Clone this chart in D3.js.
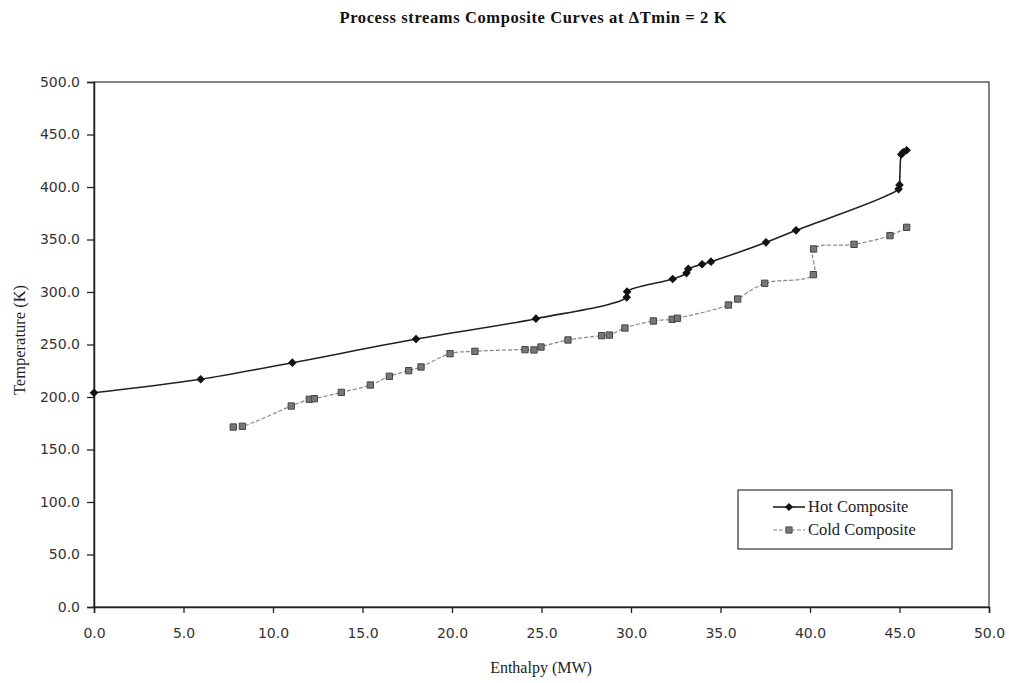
<!DOCTYPE html>
<html>
<head>
<meta charset="utf-8">
<script src="https://cdn.jsdelivr.net/npm/d3@7"></script>
<style>
  html, body { margin: 0; padding: 0; background: #ffffff; }
  svg { display: block; }
</style>
</head>
<body>
<svg id="chart" width="1009" height="683"></svg>
<script>
// ---- Data ----
const hotEnthalpy = [0.0, 5.96, 11.08, 17.99, 24.69, 29.76, 29.78, 32.33, 33.1, 33.2, 33.97, 34.47, 37.54, 39.22, 44.95, 45.0, 45.1, 45.2, 45.4];
const hotTemperature = [204.0, 216.9, 232.7, 255.2, 274.6, 294.9, 300.3, 312.4, 318.0, 322.0, 326.4, 328.9, 347.3, 358.7, 398.0, 402.0, 431.0, 433.0, 435.0];

const coldEnthalpy = [7.78, 8.29, 11.02, 12.03, 12.31, 13.82, 15.44, 16.5, 17.58, 18.27, 19.89, 21.28, 24.08, 24.58, 24.97, 26.48, 28.36, 28.79, 29.66, 31.25, 32.3, 32.6, 35.44, 35.96, 37.47, 40.19, 40.2, 42.46, 44.47, 45.4];
const coldTemperature = [171.4, 172.1, 191.4, 197.8, 198.4, 204.4, 211.4, 219.7, 225.1, 228.6, 241.3, 243.5, 245.1, 244.8, 247.6, 254.3, 258.4, 259.0, 265.7, 272.4, 274.0, 275.0, 287.6, 293.3, 308.3, 316.5, 341.0, 345.4, 353.7, 361.6];

const xTicks = [0, 5, 10, 15, 20, 25, 30, 35, 40, 45, 50];
const yTicks = [0, 50, 100, 150, 200, 250, 300, 350, 400, 450, 500];

const titleText = "Process streams Composite Curves at \u0394Tmin = 2 K";
const xLabel = "Enthalpy (MW)";
const yLabel = "Temperature (K)";
const seriesNames = ["Hot Composite", "Cold Composite"];

// ---- Layout ----
const svg = d3.select("#chart");
const plot = { left: 94, right: 989, top: 82, bottom: 607 };

const x = d3.scaleLinear().domain([0, 50]).range([plot.left, plot.right]);
const y = d3.scaleLinear().domain([0, 500]).range([plot.bottom, plot.top]);

const hot = hotEnthalpy.map((h, i) => ({ x: h, y: hotTemperature[i] }));
const cold = coldEnthalpy.map((h, i) => ({ x: h, y: coldTemperature[i] }));

// Title
svg.append("text")
  .attr("x", 533).attr("y", 23)
  .attr("text-anchor", "middle")
  .attr("font-family", "Liberation Serif, serif")
  .attr("font-weight", "bold")
  .attr("font-size", 16.5)
  .attr("fill", "#111")
  .attr("textLength", 387)
  .attr("lengthAdjust", "spacing")
  .text(titleText);

// Plot border
svg.append("rect")
  .attr("x", plot.left).attr("y", plot.top)
  .attr("width", plot.right - plot.left).attr("height", plot.bottom - plot.top)
  .attr("fill", "none").attr("stroke", "#333").attr("stroke-width", 1.2);

// Axes
const xAxis = d3.axisBottom(x).tickValues(xTicks).tickSize(6).tickPadding(15)
  .tickFormat(d3.format(".1f"));
const yAxis = d3.axisLeft(y).tickValues(yTicks).tickSize(7).tickPadding(7)
  .tickFormat(d3.format(".1f"));

const gx = svg.append("g").attr("transform", `translate(0,${plot.bottom})`).call(xAxis);
const gy = svg.append("g").attr("transform", `translate(${plot.left},0)`).call(yAxis);

[gx, gy].forEach(g => {
  g.select(".domain").attr("stroke", "#222").attr("stroke-width", 1.5);
  g.selectAll(".tick line").attr("stroke", "#222").attr("stroke-width", 1.3);
  g.selectAll(".tick text")
    .attr("font-family", "DejaVu Sans, sans-serif")
    .attr("font-size", 14)
    .attr("fill", "#333");
});

// Axis labels
svg.append("text")
  .attr("x", 541).attr("y", 673)
  .attr("text-anchor", "middle")
  .attr("font-family", "Liberation Serif, serif")
  .attr("font-size", 16)
  .attr("fill", "#222")
  .text(xLabel);

svg.append("text")
  .attr("transform", "translate(25,340) rotate(-90)")
  .attr("text-anchor", "middle")
  .attr("font-family", "Liberation Serif, serif")
  .attr("font-size", 16.5)
  .attr("fill", "#222")
  .text(yLabel);

// Lines
const line = d3.line().x(d => x(d.x)).y(d => y(d.y)).curve(d3.curveCatmullRom.alpha(0.5));

svg.append("path").datum(cold)
  .attr("d", line).attr("fill", "none")
  .attr("stroke", "#888").attr("stroke-width", 1.2)
  .attr("stroke-dasharray", "4,2");

svg.append("path").datum(hot)
  .attr("d", line).attr("fill", "none")
  .attr("stroke", "#222").attr("stroke-width", 1.6);

// Markers
const diamond = d3.symbol().type(d3.symbolSquare).size(26);
const square = d3.symbol().type(d3.symbolSquare).size(40);

svg.append("g").selectAll("path").data(cold).join("path")
  .attr("d", square)
  .attr("transform", d => `translate(${x(d.x)},${y(d.y)})`)
  .attr("fill", "#777").attr("stroke", "#444").attr("stroke-width", 1);

svg.append("g").selectAll("path").data(hot).join("path")
  .attr("d", diamond)
  .attr("transform", d => `translate(${x(d.x)},${y(d.y)}) rotate(45)`)
  .attr("fill", "#111").attr("stroke", "#111").attr("stroke-width", 1);

// Legend
const lg = svg.append("g");
lg.append("rect")
  .attr("x", 738).attr("y", 490).attr("width", 214).attr("height", 59)
  .attr("fill", "#fff").attr("stroke", "#333").attr("stroke-width", 1.2);

const legendItems = [
  { name: seriesNames[0], y: 507, stroke: "#222", dash: null, sym: diamond, rot: 45, fill: "#111", mstroke: "#111", w: 1.6 },
  { name: seriesNames[1], y: 530, stroke: "#888", dash: "4,2", sym: square, rot: 0, fill: "#777", mstroke: "#444", w: 1.2 }
];
legendItems.forEach(it => {
  lg.append("line")
    .attr("x1", 773).attr("x2", 805).attr("y1", it.y).attr("y2", it.y)
    .attr("stroke", it.stroke).attr("stroke-width", it.w)
    .attr("stroke-dasharray", it.dash);
  lg.append("path").attr("d", it.sym)
    .attr("transform", `translate(789,${it.y}) rotate(${it.rot})`)
    .attr("fill", it.fill).attr("stroke", it.mstroke).attr("stroke-width", 0.8);
  lg.append("text")
    .attr("x", 808).attr("y", it.y + 5)
    .attr("font-family", "Liberation Serif, serif")
    .attr("font-size", 16.5)
    .attr("fill", "#222")
    .text(it.name);
});
</script>
</body>
</html>
